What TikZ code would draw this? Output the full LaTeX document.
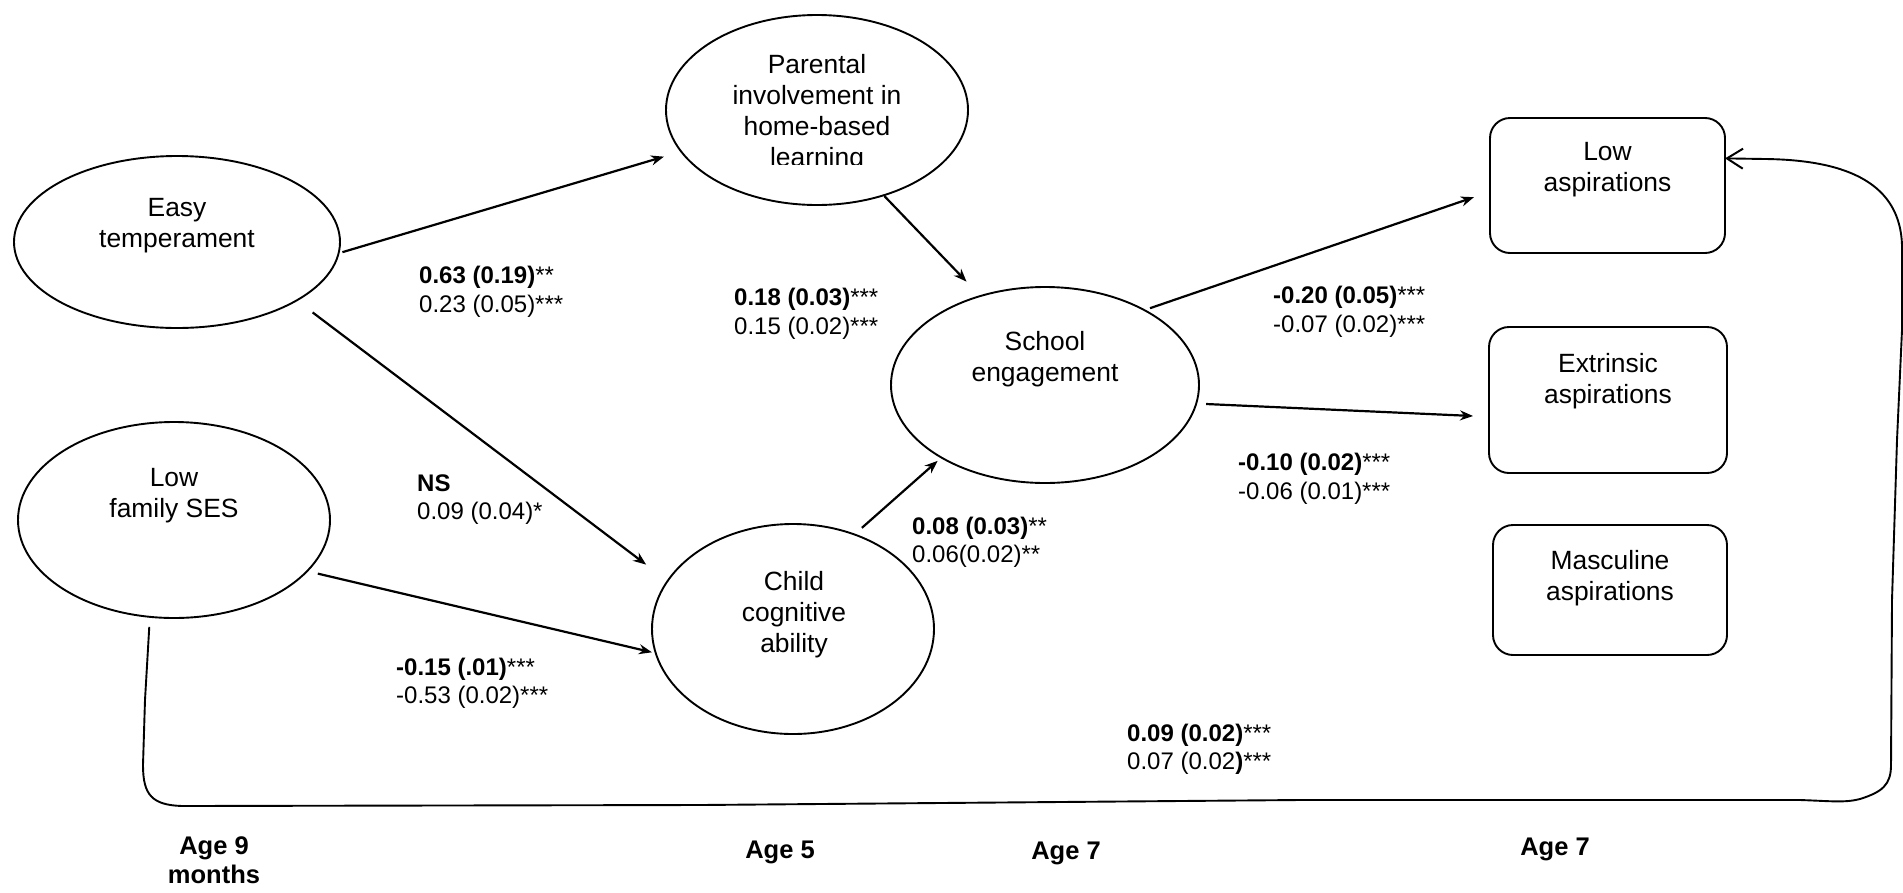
\documentclass[tikz,border=0pt]{standalone}
\usepackage{fontspec}
\setmainfont{Liberation Sans}
\usetikzlibrary{shapes.geometric,arrows.meta}

\begin{document}
\begin{tikzpicture}[x=1pt,y=-1pt,
  ell/.style={draw, ellipse, line width=1.9pt, inner sep=0pt, outer sep=0pt},
  outbox/.style={draw, rectangle, rounded corners=20pt, line width=1.9pt, inner sep=0pt, outer sep=0pt},
  ntext/.style={anchor=north, align=center, inner sep=0pt, font=\fontsize{26.4}{31}\selectfont},
  lbl/.style={anchor=north west, align=left, inner sep=0pt, font=\fontsize{24}{28.5}\selectfont},
  agelbl/.style={anchor=north, align=center, inner sep=0pt, font=\fontsize{25.5}{29}\selectfont\bfseries},
  path arrow/.style={line width=2.2pt, -{Stealth[length=13pt,width=10pt]}},
  return arrow/.style={line width=1.9pt, -{Straight Barb[length=16pt,width=20pt,line width=2pt]}}
]
\useasboundingbox (0,0) rectangle (1903,892);
\fill[white] (0,0) rectangle (1903,892);

% latent variables (ellipses)
\node[ell, minimum width=326pt, minimum height=172pt] (easy)   at (177,242)  {};
\node[ell, minimum width=312pt, minimum height=196pt] (ses)    at (174,520)  {};
\node[ell, minimum width=302pt, minimum height=190pt] (par)    at (817,110)  {};
\node[ell, minimum width=308pt, minimum height=196pt] (school) at (1045,385) {};
\node[ell, minimum width=282pt, minimum height=210pt] (child)  at (793,629)  {};

% outcomes (rounded boxes)
\node[outbox, minimum width=235pt, minimum height=135pt] (low) at (1607.5,185.5) {};
\node[outbox, minimum width=238pt, minimum height=146pt] (ext) at (1608,400)     {};
\node[outbox, minimum width=234pt, minimum height=130pt] (mas) at (1610,590)     {};

% node captions
\node[ntext] (easyT)   at (177,198.5)  {Easy\\temperament};
\node[ntext] (sesT)    at (174,468.5)  {Low\\family SES};
\begin{scope}
  \clip (640,0) rectangle (1000,164);
  \node[ntext] (parT)  at (817,54.5)   {Parental\\involvement in\\home-based\\learning};
\end{scope}
\node[ntext] (schoolT) at (1045,331.5) {School\\engagement};
\node[ntext] (childT)  at (794,571.5)  {Child\\cognitive\\ability};
\node[ntext] (lowT)    at (1607.5,142.5) {Low\\aspirations};
\node[ntext] (extT)    at (1608,353.5) {Extrinsic\\aspirations};
\node[ntext] (masT)    at (1610,550.5) {Masculine\\aspirations};

% paths
\draw[path arrow, shorten <=4pt,  shorten >=18pt] (easy.356.6)   -- (par.197.5);
\draw[path arrow, shorten <=20pt, shorten >=27pt] (easy.334.8)   -- (child.159.8);
\draw[path arrow, shorten <=11pt, shorten >=4pt]  (ses.339)      -- (child.190.4);
\draw[path arrow, shorten <=1pt,  shorten >=20pt] (par.308.3)    -- (school.126.6);
\draw[path arrow, shorten <=10pt, shorten >=5pt]  (child.57)     -- (school.215.4);
\draw[path arrow, shorten <=6pt,  shorten >=17pt] (school.37.5)  -- (low.183.6);
\draw[path arrow, shorten <=10pt, shorten >=16pt] (school.353.7) -- (ext.188.8);

% long path from family SES round to low aspirations
\draw[return arrow, shorten <=10pt]
  (ses.256) -- (145,700) -- (143,765)
  .. controls (143,795) and (152,805) .. (182,806)
  -- (700,805) -- (1300,800) -- (1800,800)
  .. controls (1830,801) and (1845,803) .. (1860,799)
  .. controls (1882,792) and (1891,785) .. (1891,765)
  -- (1892,600) -- (1897,440) -- (1902,330) -- (1902,245)
  .. controls (1900,185) and (1850,160) .. (1765,159)
  -- (low.13);

% coefficients
\node[lbl] (c1) at (419,266.4)  {\textbf{0.63 (0.19)}**\\0.23 (0.05)***};
\node[lbl] (c2) at (734,288.4)  {\textbf{0.18 (0.03)}***\\0.15 (0.02)***};
\node[lbl] (c3) at (417,474.4)  {\textbf{NS}\\0.09 (0.04)*};
\node[lbl] (c4) at (396,657.4)  {\textbf{-0.15 (.01)}***\\-0.53 (0.02)***};
\node[lbl] (c5) at (912,516.4)  {\textbf{0.08 (0.03)}**\\0.06(0.02)**};
\node[lbl] (c6) at (1273,286.4) {\textbf{-0.20 (0.05)}***\\-0.07 (0.02)***};
\node[lbl] (c7) at (1238,453.4) {\textbf{-0.10 (0.02)}***\\-0.06 (0.01)***};
\node[lbl] (c8) at (1127,723.4) {\textbf{0.09 (0.02)}***\\0.07 (0.02\textbf{)}***};

% time points
\node[agelbl] (age1) at (214,836.8)  {Age 9\\months};
\node[agelbl] (age2) at (780,840.8)  {Age 5};
\node[agelbl] (age3) at (1066,841.8) {Age 7};
\node[agelbl] (age4) at (1555,837.8) {Age 7};
\end{tikzpicture}
\end{document}
